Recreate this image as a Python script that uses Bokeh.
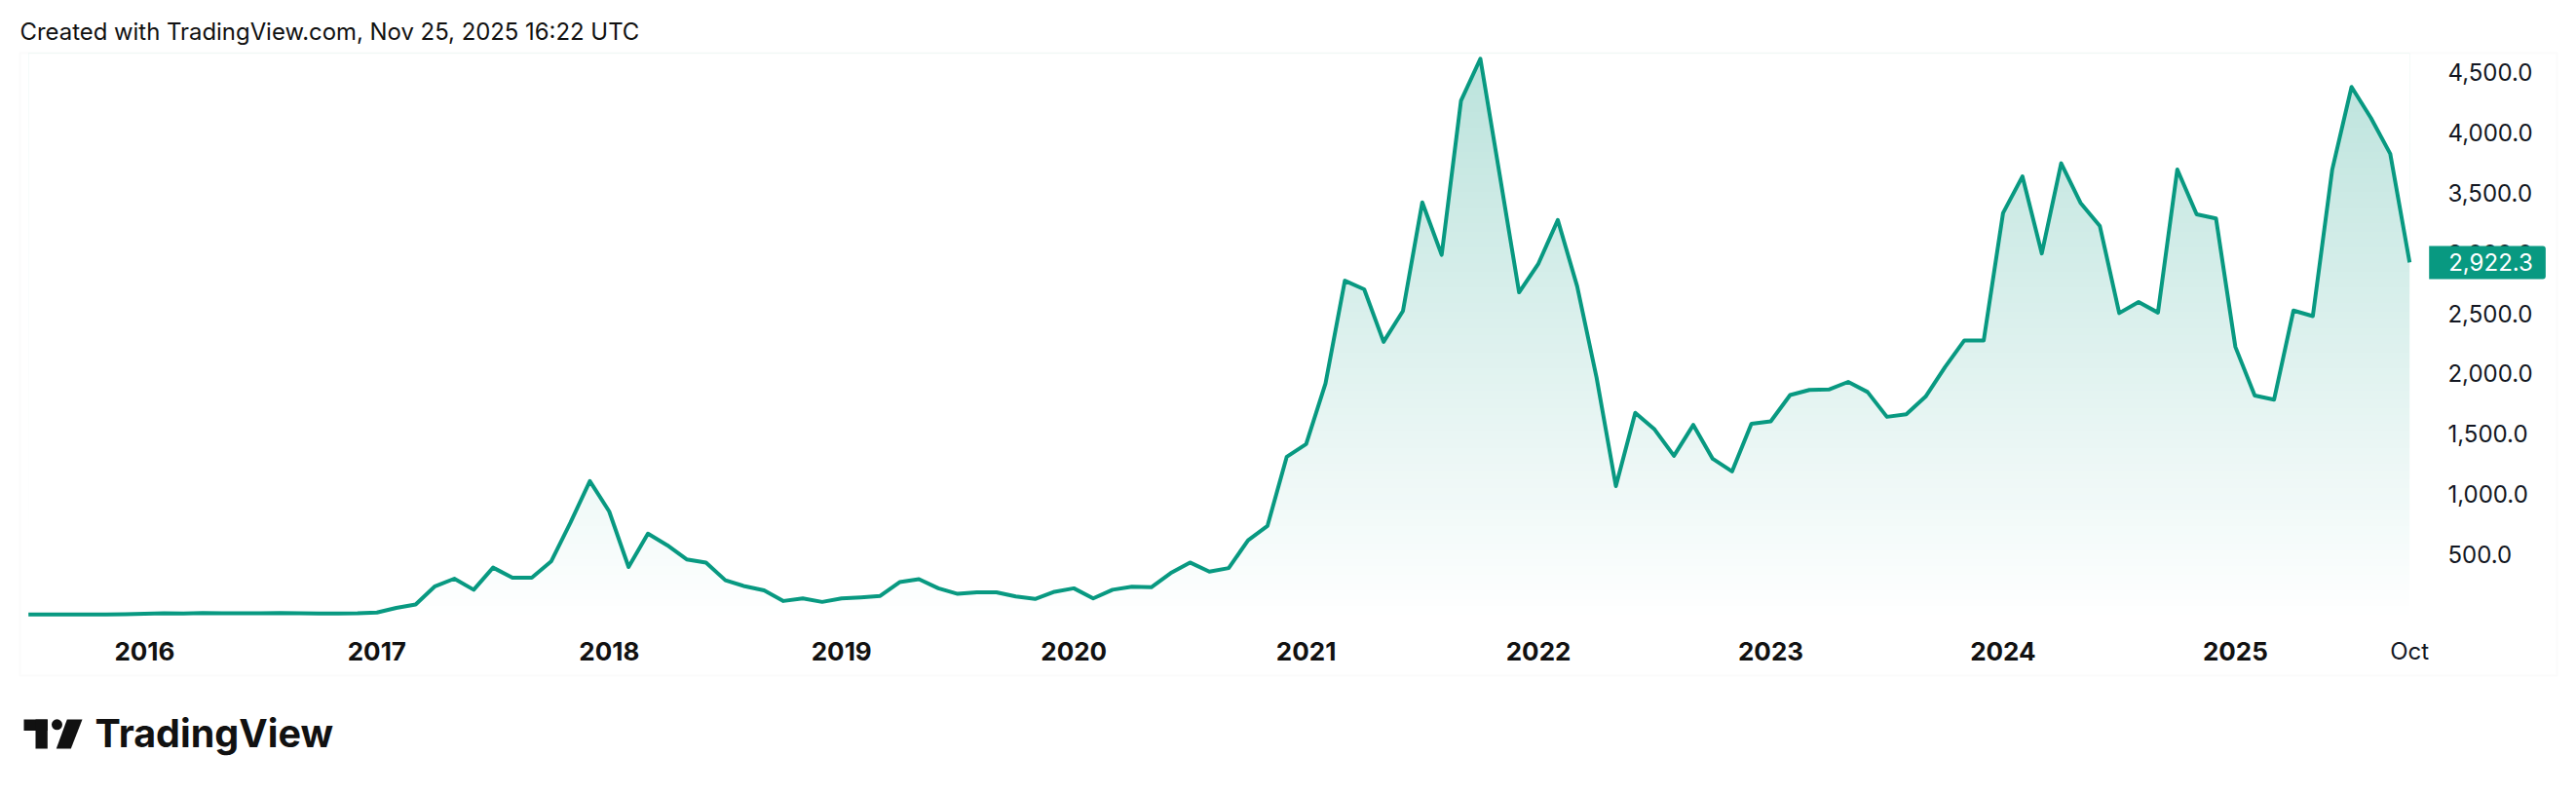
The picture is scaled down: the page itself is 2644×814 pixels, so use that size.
import numpy as np
from bokeh.plotting import figure
from bokeh.models import LinearAxis, FixedTicker, NumeralTickFormatter, Label, BoxAnnotation, PolyAnnotation
from bokeh.embed import file_html
from bokeh.resources import INLINE

TITLE = "Created with TradingView.com, Nov 25, 2025 16:22 UTC"
values = [1, 1, 1, 1, 1, 2, 6, 11, 8, 13, 12, 11, 11, 13, 11, 9, 8, 10, 17,
          55, 84, 235, 298, 206, 390, 306, 306, 441, 764, 1108, 856, 395, 672, 575, 458, 432, 285, 235, 201, 113,
          134, 105, 134, 143, 155, 269, 294, 218, 172, 185, 185, 151, 130, 189, 218, 134, 206, 231, 227, 344,
          432, 357, 386, 617, 735, 1310, 1415, 1918, 2771, 2699, 2263, 2519, 3421, 2985, 4265, 4613, 3648, 2674, 2913, 3274,
          2724, 1969, 1066, 1675, 1536, 1318, 1574, 1293, 1188, 1583, 1604, 1822, 1864, 1868, 1931, 1847, 1641, 1662, 1809, 2053,
          2275, 2275, 3333, 3636, 2997, 3745, 3417, 3224, 2502, 2594, 2506, 3694, 3321, 3287, 2221, 1818, 1784, 2523, 2477, 3690,
          4379, 4122, 3824, 2922.3]
year_ticks = [6, 18, 30, 42, 54, 66, 78, 90, 102, 114]
year_labels = ["2016", "2017", "2018", "2019", "2020", "2021", "2022", "2023", "2024", "2025"]
price_ticks = [500, 1000, 1500, 2000, 2500, 3000, 3500, 4000, 4500]
last_tick_label = "Oct"

GREEN = "#089981"
INK = "#131722"
index = list(range(len(values)))
# the plot frame fills the page, so nothing outside the pane gets clipped
X_PAGE = (-1.444, 131.62)
Y_PAGE = (-1484.6, 5096.0)
PANE_BOTTOM, PANE_TOP, PANE_RIGHT = -78.0, 4659.0, 123.97

p = figure(width=2644, height=814, output_backend="svg", toolbar_location=None,
           x_range=X_PAGE, y_range=Y_PAGE, x_axis_type=None, y_axis_type=None,
           min_border_left=0, min_border_right=0, min_border_top=0, min_border_bottom=0,
           background_fill_color="white", border_fill_color="white", outline_line_color=None)
p.grid.visible = False

# gradient under the line, masked above the series
rows = 400
alpha = np.linspace(0, 0.28, rows)
img = np.zeros((rows, 2), dtype=np.uint32)
view = img.view(dtype=np.uint8).reshape((rows, 2, 4))
view[:, :, 0] = 8
view[:, :, 1] = 153
view[:, :, 2] = 129
view[:, :, 3] = (alpha[:, None] * 255).astype(np.uint8)
p.image_rgba(image=[img], x=index[0], y=PANE_BOTTOM, dw=index[-1] - index[0], dh=PANE_TOP - PANE_BOTTOM)
p.varea(x=index, y1=values, y2=PANE_TOP, fill_color="white")
p.line(index, values, line_color=GREEN, line_width=4, line_join="round")

xa = LinearAxis(ticker=FixedTicker(ticks=year_ticks),
                major_label_overrides=dict(zip(year_ticks, year_labels)),
                major_label_text_font="Inter", major_label_text_font_style="bold",
                major_label_text_font_size="26px", major_label_text_color="#111111",
                major_label_standoff=12, fixed_location=PANE_BOTTOM)
ya = LinearAxis(ticker=FixedTicker(ticks=price_ticks),
                formatter=NumeralTickFormatter(format="0,0.0"),
                major_label_text_font="Inter", major_label_text_font_size="24px",
                major_label_text_color=INK, major_label_standoff=14, fixed_location=PANE_RIGHT)
for ax, side in ((xa, "below"), (ya, "right")):
    ax.axis_line_color = None
    ax.major_tick_line_color = None
    ax.minor_tick_line_color = None
    p.add_layout(ax, side)

# title
p.add_layout(Label(x=20, y=32, x_units="canvas", y_units="canvas", text=TITLE,
                   text_font="Inter", text_font_size="23.9px", text_color="#111111",
                   text_baseline="middle", text_align="left"))

# final time label at the last bar
p.add_layout(Label(x=index[-1], y=PANE_BOTTOM, y_offset=-28, text=last_tick_label,
                   text_font="Inter", text_font_size="24px", text_color=INK,
                   text_baseline="middle", text_align="center"))

# price badge over the axis
p.add_layout(Label(x=index[-1], y=values[-1], x_offset=20, text=f"{values[-1]:,.1f}",
                   text_font="Inter", text_font_size="24px", text_color="white",
                   text_baseline="middle", text_align="left",
                   background_fill_color=GREEN, padding=dict(left=20, right=13, top=8, bottom=8),
                   border_radius=(0, 3, 3, 0)))

# outer pane border (canvas px)
p.add_layout(BoxAnnotation(left=20, right=2624, top=54, bottom=693,
                           left_units="canvas", right_units="canvas", top_units="canvas", bottom_units="canvas",
                           fill_alpha=0, line_color="#f2f3f3", line_width=2))

# logo
LOGO = "#111111"
p.add_layout(BoxAnnotation(left=24, right=48.3, top=738, bottom=749.5,
                           left_units="canvas", right_units="canvas", top_units="canvas", bottom_units="canvas",
                           fill_color=LOGO, fill_alpha=1, line_color=None))
p.add_layout(BoxAnnotation(left=36, right=48.3, top=738, bottom=768,
                           left_units="canvas", right_units="canvas", top_units="canvas", bottom_units="canvas",
                           fill_color=LOGO, fill_alpha=1, line_color=None))
p.add_layout(BoxAnnotation(left=52.5, right=63.5, top=737.8, bottom=748.8, border_radius=6,
                           left_units="canvas", right_units="canvas", top_units="canvas", bottom_units="canvas",
                           fill_color=LOGO, fill_alpha=1, line_color=None))
p.add_layout(PolyAnnotation(xs=[68.3, 84, 72.3, 57.3], ys=[738, 738, 768, 768],
                            xs_units="canvas", ys_units="canvas",
                            fill_color=LOGO, fill_alpha=1, line_color=None))
p.add_layout(Label(x=97, y=752, x_units="canvas", y_units="canvas", text="TradingView",
                   text_font="Inter", text_font_style="bold", text_font_size="39.5px",
                   text_color=LOGO, text_baseline="alphabetic", text_align="left"))

open("out.html", "w").write(file_html(p, INLINE))
